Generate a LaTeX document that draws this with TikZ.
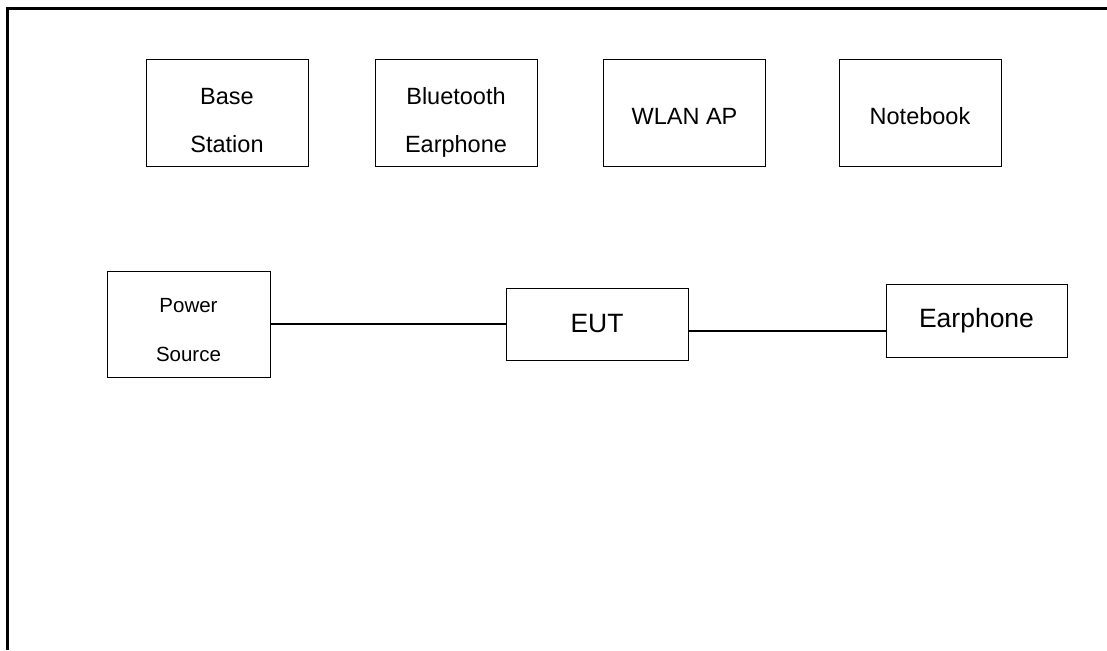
\documentclass[tikz,border=0pt]{standalone}
\usepackage{fontspec}
\setmainfont{Liberation Sans}
\begin{document}
\begin{tikzpicture}[x=1pt,y=-1pt,
    unit/.style={draw,line width=1pt,inner sep=0pt,align=center},
    link/.style={line width=1.5pt}]
  \useasboundingbox (0,0) rectangle (1107,650);
  \draw[line width=3pt] (7.5,650) -- (7.5,8.5) -- (1107,8.5);
  %
  \foreach \name/\cx/\up/\txt in {bs/227/37/{Base\\Station}, bt/456/37/{Bluetooth\\Earphone}, ap/684.5/29/{WLAN AP}, nb/920/29/{Notebook}}
    \node[unit,minimum width=162pt,minimum height=106pt,font=\fontsize{23.5}{48}\selectfont] (\name) at (\cx,113) {\rule{0pt}{\up pt}\txt\rule[-6pt]{0pt}{0pt}};
  %
  \node[unit,minimum width=163pt,minimum height=106pt,font=\fontsize{20.5}{49}\selectfont] (ps) at (188.5,324) {\rule{0pt}{27pt}Power\\Source};
  \node[unit,minimum width=182pt,minimum height=72pt,font=\fontsize{26.5}{32}\selectfont] (eut) at (597,324) {EUT};
  \node[unit,minimum width=181pt,minimum height=73pt,font=\fontsize{26.5}{32}\selectfont] (ear) at (976.5,320.5) {Earphone};
  %
  \draw[link] (ps) -- (eut);
  \draw[link] ([yshift=-7pt]eut.east) -- ([yshift=-10.5pt]ear.west);
\end{tikzpicture}
\end{document}
